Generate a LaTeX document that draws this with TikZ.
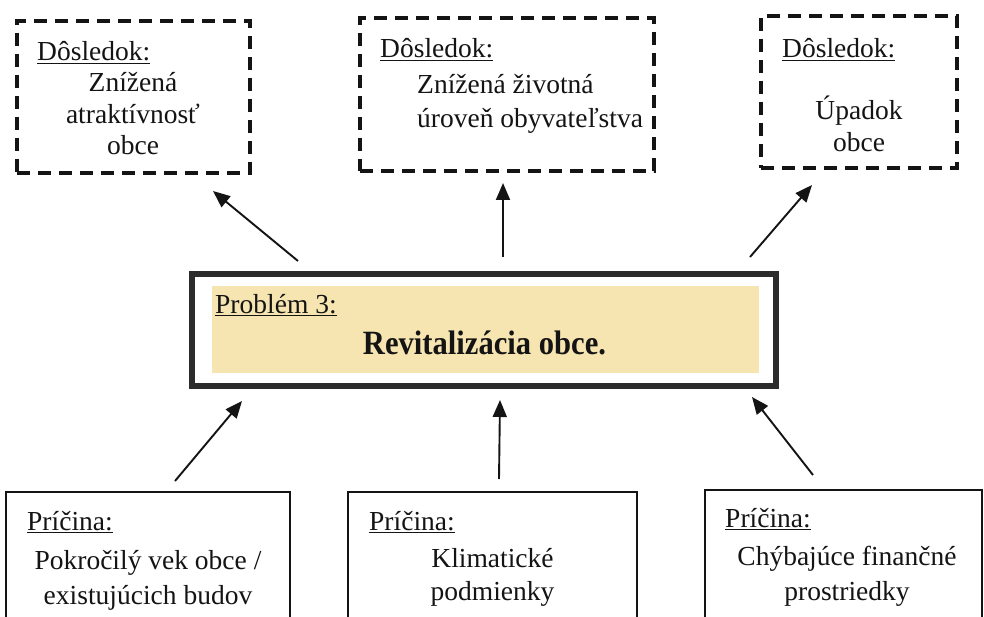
\documentclass[tikz,border=0pt]{standalone}
\usepackage{fontspec}
\setmainfont{Liberation Serif}
\newfontfamily\condfont[FakeStretch=0.9]{Liberation Serif}
\usetikzlibrary{arrows.meta}
\definecolor{ink}{HTML}{141414}
\definecolor{pale}{HTML}{F6E5B0}
\begin{document}
\begin{tikzpicture}[x=1pt,y=-1pt,
  dbox/.style={draw=ink, line width=3.2pt, dash pattern=on 13pt off 8pt, inner sep=0pt},
  cbox/.style={draw=ink, line width=2pt, inner sep=0pt},
  frame/.style={draw=ink!90, line width=6.5pt, inner sep=0pt},
  fillbox/.style={fill=pale, inner sep=0pt},
  txt/.style={inner sep=0pt, text=ink, font=\fontsize{27.5}{32}\selectfont},
  hd/.style={txt, anchor=base west},
  ln/.style={txt, anchor=base},
  lnw/.style={txt, anchor=base west},
  big/.style={inner sep=0pt, text=ink, anchor=base, font=\condfont\bfseries\fontsize{34}{38}\selectfont},
  arr/.style={line width=1.9pt, draw=ink, -{Triangle[length=17pt,width=14pt]}}
]
\clip (0,0) rectangle (984,617);
\fill[white] (0,0) rectangle (984,617);

% top (consequence) boxes
\node[dbox, minimum width=233pt, minimum height=152pt] (tl) at (133.5,97) {};
\node[dbox, minimum width=294pt, minimum height=153pt] (tm) at (507,94.5) {};
\node[dbox, minimum width=196pt, minimum height=152pt] (tr) at (859,92) {};

\node[hd] (tlh) at (37,61) {\underline{Dôsledok:}};
\node[ln] (tl1) at (133,92) {Znížená};
\node[ln] (tl2) at (133,123.5) {atraktívnosť};
\node[ln] (tl3) at (133,155) {obce};

\node[hd] (tmh) at (380,58) {\underline{Dôsledok:}};
\node[lnw] (tm1) at (417,94) {Znížená životná};
\node[lnw] (tm2) at (417,128) {úroveň obyvateľstva};

\node[hd] (trh) at (782,58) {\underline{Dôsledok:}};
\node[ln] (tr1) at (859,120) {Úpadok};
\node[ln] (tr2) at (859,152) {obce};

% central problem box
\node[frame, minimum width=584pt, minimum height=112pt] (pb) at (484,330) {};
\node[fillbox, minimum width=547pt, minimum height=87pt] (pf) at (485.5,329.5) {};
\node[hd] (pbh) at (215,313) {\underline{Problém 3:}};
\node[big] (pbt) at (484.5,354) {Revitalizácia obce.};

% bottom (cause) boxes
\node[cbox, minimum width=284pt, minimum height=148pt] (bl) at (148,566) {};
\node[cbox, minimum width=289pt, minimum height=148pt] (bm) at (492.5,566) {};
\node[cbox, minimum width=277pt, minimum height=150pt] (br) at (843.5,565) {};

\node[hd] (blh) at (27,530) {\underline{Príčina:}};
\node[ln] (bl1) at (148,569) {Pokročilý vek obce /};
\node[ln] (bl2) at (148,604) {existujúcich budov};

\node[hd] (bmh) at (369,530) {\underline{Príčina:}};
\node[ln] (bm1) at (492.5,567) {Klimatické};
\node[ln] (bm2) at (492.5,600) {podmienky};

\node[hd] (brh) at (725,527) {\underline{Príčina:}};
\node[ln] (br1) at (847,565) {Chýbajúce finančné};
\node[ln] (br2) at (847,600) {prostriedky};

% arrows
\coordinate (a1s) at (298,261); \coordinate (a1e) at (213,191);
\coordinate (a2s) at (503,257); \coordinate (a2e) at (503,183);
\coordinate (a3s) at (750,257); \coordinate (a3e) at (812,185);
\coordinate (a4s) at (175,481); \coordinate (a4e) at (242,401);
\coordinate (a5s) at (499,479); \coordinate (a5e) at (500,400);
\coordinate (a6s) at (813,475); \coordinate (a6e) at (752,397);
\draw[arr] (a1s) -- (a1e);
\draw[arr] (a2s) -- (a2e);
\draw[arr] (a3s) -- (a3e);
\draw[arr] (a4s) -- (a4e);
\draw[arr] (a5s) -- (a5e);
\draw[arr] (a6s) -- (a6e);
\end{tikzpicture}
\end{document}
